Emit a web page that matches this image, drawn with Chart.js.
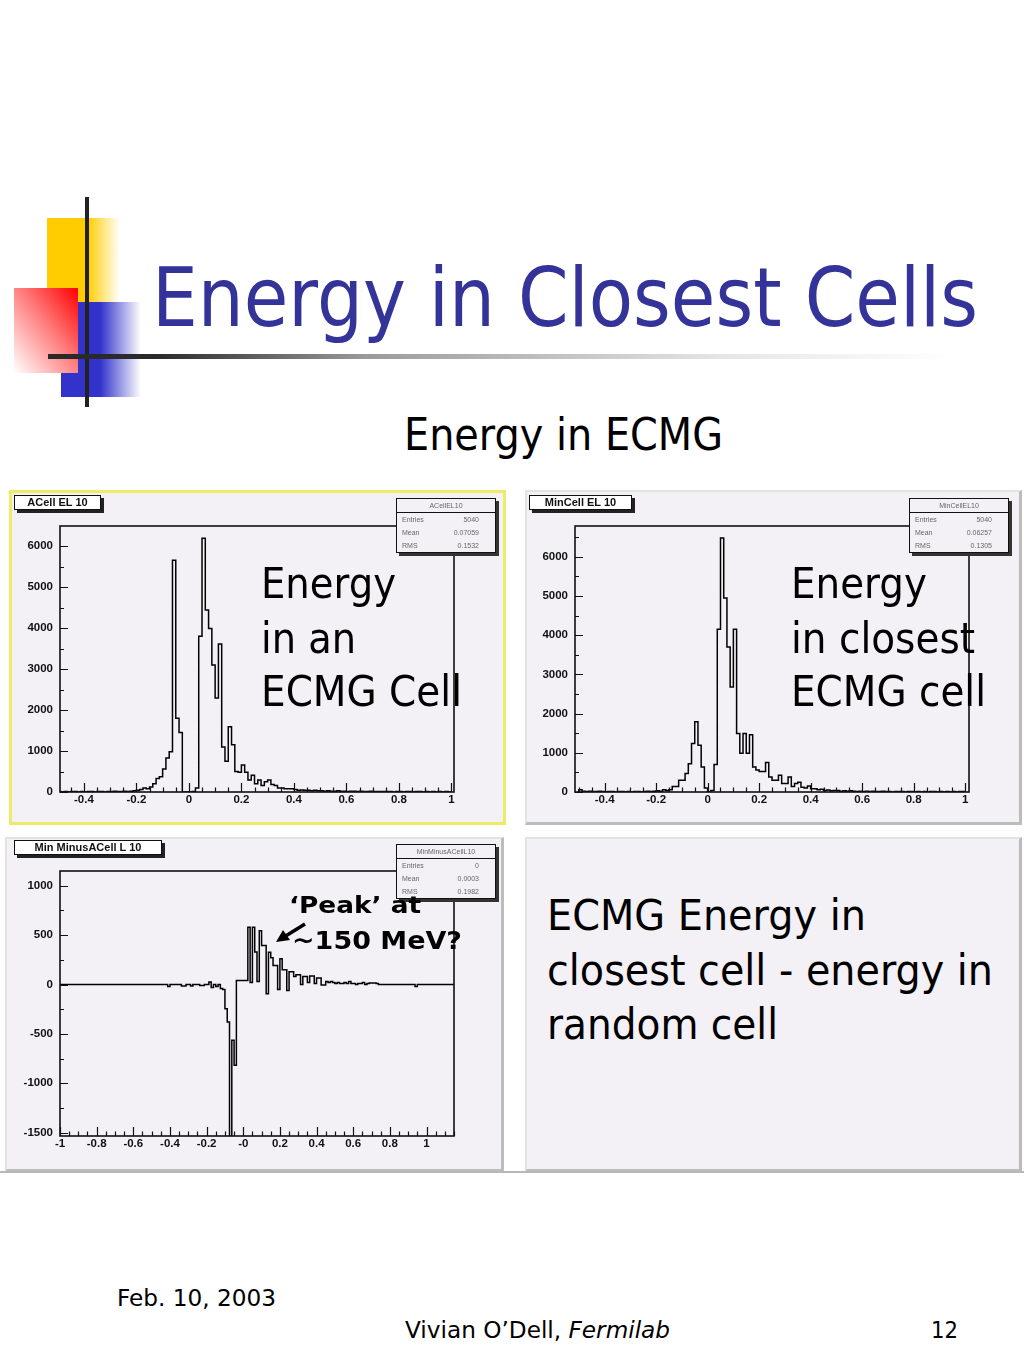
<!DOCTYPE html>
<html>
<head>
<meta charset="utf-8">
<script src="https://cdn.jsdelivr.net/npm/chart.js@4.4.1/dist/chart.umd.min.js"></script>
<style>
  body { margin: 0; width: 1024px; height: 1365px; background: #fff; position: relative; overflow: hidden; }
  .abs { position: absolute; }
  .t { position: absolute; white-space: nowrap; line-height: 1; transform-origin: 0 0; font-family: 'DejaVu Sans', 'Open Sans', sans-serif; color: #000; z-index: 5; }
  .pad { position: absolute; box-sizing: border-box; background: #f3f1f6;
         border-top: 2px solid #e2e2e2; border-left: 2px solid #e2e2e2;
         border-right: 3px solid #bcbcbc; border-bottom: 3px solid #bcbcbc; }
  canvas { position: absolute; z-index: 2; }
  .tbox { position: absolute; z-index: 3; height: 15px; box-sizing: border-box; border: 1px solid #111;
          box-shadow: 3px 3px 0 #222; background: #fff; text-align: center; line-height: 14px;
          font: bold 11px 'Liberation Sans Narrow', 'Liberation Sans', sans-serif; color: #111; }
  .stat { position: absolute; z-index: 3; width: 100px; box-sizing: border-box; border: 1px solid #111;
          box-shadow: 3px 3px 0 #333; background: #f3f1f6; font: 7px 'Liberation Sans', sans-serif; color: #666; }
  .stat .sh { height: 13px; line-height: 13px; border-bottom: 1px solid #111; text-align: center; }
  .stat .sr { display: flex; justify-content: space-between; padding: 0 16px 0 5px; height: 13px; line-height: 13px; }
</style>
</head>
<body>

<!-- slide decoration -->
<div class="abs" style="left:47px;top:218px;width:73px;height:84px;background:linear-gradient(to right,#ffcc00 0%,#ffcc00 55%,rgba(255,204,0,0) 100%)"></div>
<div class="abs" style="left:61px;top:302px;width:80px;height:95px;background:linear-gradient(to right,#3333cc 0%,#3333cc 49%,rgba(51,51,204,0) 100%)"></div>
<div class="abs" style="left:14px;top:288px;width:64px;height:85px;background:linear-gradient(to bottom left,#ff0000 0%,#ff7a7a 45%,#ffffff 100%)"></div>
<div class="abs" style="left:85px;top:197px;width:4px;height:210px;background:#222"></div>
<div class="abs" style="left:48px;top:354px;width:905px;height:5px;background:linear-gradient(to right,#2a2a2a 0%,#2a2a2a 12%,#9a9a9a 35%,#e6e6e6 75%,#ffffff 100%)"></div>

<div class="t" data-w="826" style="left:152px;top:257px;font-size:82px;color:#333399">Energy in Closest Cells</div>
<div class="t" data-w="319" style="left:404px;top:413px;font-size:44px">Energy in ECMG</div>

<!-- pads -->
<div class="pad" style="left:9px;top:490px;width:497px;height:335px;border:3px solid #ecec66"></div>
<div class="pad" style="left:525px;top:490px;width:497px;height:335px"></div>
<div class="pad" style="left:5px;top:837px;width:499px;height:335px"></div>
<div class="pad" style="left:525px;top:837px;width:497px;height:335px"></div>
<div class="abs" style="left:0;top:1171px;width:1024px;height:2px;background:#b8b8b8"></div>

<canvas id="c1" width="512" height="330" style="left:0;top:490px"></canvas>
<canvas id="c2" width="512" height="330" style="left:515px;top:490px"></canvas>
<canvas id="c3" width="512" height="330" style="left:0;top:835px"></canvas>

<!-- ROOT title boxes -->
<div class="tbox" style="left:14px;top:495px;width:87px">ACell EL 10</div>
<div class="tbox" style="left:529px;top:495px;width:103px">MinCell EL 10</div>
<div class="tbox" style="left:14px;top:840px;width:148px">Min MinusACell L 10</div>

<!-- ROOT stat boxes -->
<div class="stat" style="left:396px;top:498px">
  <div class="sh">ACellEL10</div>
  <div class="sr"><span>Entries</span><span>5040</span></div>
  <div class="sr"><span>Mean</span><span>0.07059</span></div>
  <div class="sr"><span>RMS</span><span>0.1532</span></div>
</div>
<div class="stat" style="left:909px;top:498px">
  <div class="sh">MinCellEL10</div>
  <div class="sr"><span>Entries</span><span>5040</span></div>
  <div class="sr"><span>Mean</span><span>0.06257</span></div>
  <div class="sr"><span>RMS</span><span>0.1305</span></div>
</div>
<div class="stat" style="left:396px;top:844px">
  <div class="sh">MinMinusACellL10</div>
  <div class="sr"><span>Entries</span><span>0</span></div>
  <div class="sr"><span>Mean</span><span>0.0003</span></div>
  <div class="sr"><span>RMS</span><span>0.1982</span></div>
</div>

<!-- overlay text -->
<div class="t" data-w="135" style="left:261px;top:562px;font-size:43.5px">Energy</div>
<div class="t" data-w="95" style="left:261px;top:617px;font-size:43.5px">in an</div>
<div class="t" data-w="201" style="left:261px;top:670px;font-size:43.5px">ECMG Cell</div>

<div class="t" data-w="136" style="left:791px;top:562px;font-size:43.5px">Energy</div>
<div class="t" data-w="184" style="left:791px;top:617px;font-size:43.5px">in closest</div>
<div class="t" data-w="195" style="left:791px;top:670px;font-size:43.5px">ECMG cell</div>

<div class="t" data-w="132" style="left:289px;top:894px;font-size:23px;font-weight:bold">‘Peak’ at</div>
<div class="t" data-w="170" style="left:292px;top:929px;font-size:24px;font-weight:bold">~150 MeV?</div>

<div class="t" data-w="319" style="left:547px;top:894px;font-size:43.5px">ECMG Energy in</div>
<div class="t" data-w="446" style="left:547px;top:949px;font-size:43.5px">closest cell - energy in</div>
<div class="t" data-w="231" style="left:547px;top:1003px;font-size:43.5px">random cell</div>

<svg class="abs" style="left:0;top:0;z-index:6" width="1024" height="1365">
  <line x1="305" y1="924" x2="284" y2="937" stroke="#000" stroke-width="3.5"/>
  <polygon points="276,942 283,930 290,940" fill="#000"/>
</svg>

<!-- footer -->
<div class="t" data-w="159" style="left:117px;top:1287px;font-size:23px">Feb. 10, 2003</div>
<div class="t" data-w="265" style="left:405px;top:1319px;font-size:23px">Vivian O’Dell, <i>Fermilab</i></div>
<div class="t" data-w="27" style="left:931px;top:1319px;font-size:23px">12</div>

<script>
// histogram binning shared by all three plots
const binLow = -0.5;
const binWidth = 0.0125;

// ACellEL10 - energy in an ECMG cell
const aCellCounts = [
  10, 0, 10, 0, 10, 10, 0, 10, 0, 10,
  10, 0, 10, 10, 0, 10, 10, 20, 10, 10,
  20, 10, 20, 30, 40, 60, 100, 80, 120, 200,
  330, 370, 560, 830, 980, 5650, 1800, 1450, 0, 0,
  0, 10, 100, 3800, 6190, 4440, 3990, 3100, 2290, 3610,
  1100, 750, 1590, 1150, 500, 480, 660, 480, 290, 410,
  200, 290, 160, 250, 290, 180, 160, 100, 100, 80,
  80, 80, 60, 40, 50, 40, 40, 30, 40, 30,
  30, 20, 30, 20, 20, 30, 20, 20, 10, 20,
  20, 10, 20, 10, 10, 20, 10, 10, 10, 10,
  10, 10, 0, 10, 10, 0, 10, 10, 0, 10,
  10, 0, 10, 0, 10, 0, 10, 0, 10, 0
];

// MinCellEL10 - energy in closest ECMG cell
const minCellCounts = [
  60, 20, 10, 20, 10, 10, 20, 10, 0, 10,
  10, 0, 10, 10, 0, 10, 0, 10, 10, 0,
  10, 20, 10, 20, 30, 20, 60, 40, 60, 140,
  140, 300, 300, 470, 720, 1240, 1790, 1190, 640, 100,
  0, 40, 700, 4150, 6480, 4950, 3700, 2680, 4150, 1490,
  990, 1490, 990, 1460, 640, 560, 520, 520, 750, 380,
  300, 300, 430, 220, 220, 380, 140, 220, 250, 120,
  100, 150, 80, 80, 60, 70, 40, 50, 30, 40,
  40, 20, 30, 20, 30, 20, 10, 20, 10, 20,
  10, 20, 10, 10, 20, 10, 10, 0, 10, 10,
  10, 0, 10, 10, 0, 10, 0, 10, 0, 10,
  10, 0, 10, 0, 10, 0, 10, 0, 10, 10
];

// MinMinusACellL10 - closest minus random
const minMinusCounts = [
  0, 0, 0, 0, 0, 0, 0, -20, 0, 0,
  0, 0, 0, -15, -15, 0, 0, -15, 0, 0,
  0, -10, -10, 0, 0, 25, -30, 0, -20, 0,
  -40, -50, -245, -380, -1600, -566, -818, 40, 40, 40,
  40, 40, 580, 20, 580, 330, 30, 545, 394, 394,
  -94, 326, 270, 192, 192, -50, 262, 150, 150, -60,
  130, 130, 80, 100, 100, 0, 80, 80, 20, 85,
  85, 10, 65, 65, -5, -5, 30, 20, 30, 20,
  10, 20, 10, 10, 20, 10, 30, 10, 10, 0,
  10, 10, 20, 0, 10, 15, 15, 15, 10, 0,
  0, 0, 0, 0, 0, 0, 0, 0, 0, 0,
  0, 0, 0, 0, 0, -20, 0, 0, 0, 0
];

// tick labels
const xTicks1 = [-0.4, -0.2, 0, 0.2, 0.4, 0.6, 0.8, 1];
const xLabels1 = ['-0.4', '-0.2', '0', '0.2', '0.4', '0.6', '0.8', '1'];
const yTicks1 = [0, 1000, 2000, 3000, 4000, 5000, 6000];
const yLabels1 = ['0', '1000', '2000', '3000', '4000', '5000', '6000'];
const xTicks3 = [-1, -0.8, -0.6, -0.4, -0.2, 0, 0.2, 0.4, 0.6, 0.8, 1];
const xLabels3 = ['-1', '-0.8', '-0.6', '-0.4', '-0.2', '-0', '0.2', '0.4', '0.6', '0.8', '1'];
const yTicks3 = [-1500, -1000, -500, 0, 500, 1000];
const yLabels3 = ['-1500', '-1000', '-500', '0', '500', '1000'];

Chart.defaults.animation = false;

// turn bin contents into step points (low edges), closing down to zero at both ends
function histPoints(counts, xFrom, xTo) {
  const pts = [];
  if (xFrom !== undefined) pts.push({ x: xFrom, y: 0 });
  pts.push({ x: binLow, y: 0 });
  counts.forEach((c, i) => pts.push({ x: binLow + i * binWidth, y: c }));
  const hi = binLow + counts.length * binWidth;
  pts.push({ x: hi, y: 0 });
  if (xTo !== undefined) pts.push({ x: xTo, y: 0 });
  return pts;
}

// ROOT style frame with inward tick marks
const rootFrame = {
  id: 'rootFrame',
  afterDatasetsDraw(chart, args, o) {
    const { ctx, chartArea: a, scales: { x, y } } = chart;
    ctx.save();
    ctx.strokeStyle = '#111';
    ctx.lineWidth = 1.6;
    ctx.strokeRect(a.left, a.top, a.right - a.left, a.bottom - a.top);
    ctx.lineWidth = 1.2;
    ctx.beginPath();
    for (let v = Math.ceil(x.min / o.xMinor - 1e-6) * o.xMinor; v <= x.max + 1e-9; v += o.xMinor) {
      const major = o.xMajor.some(m => Math.abs(m - v) < 1e-6);
      const px = Math.round(x.getPixelForValue(v)) + 0.5;
      ctx.moveTo(px, a.bottom);
      ctx.lineTo(px, a.bottom - (major ? 9 : 4.5));
    }
    for (let v = Math.ceil(y.min / o.yMinor - 1e-6) * o.yMinor; v <= y.max + 1e-9; v += o.yMinor) {
      const major = o.yMajor.some(m => Math.abs(m - v) < 1e-6);
      const py = Math.round(y.getPixelForValue(v)) + 0.5;
      ctx.moveTo(a.left, py);
      ctx.lineTo(a.left + (major ? 8 : 4), py);
    }
    ctx.stroke();
    ctx.restore();
  }
};

const tickFont = { family: 'Liberation Sans', weight: 'bold', size: 11.5 };
const noGrid = { display: false, drawTicks: false, tickLength: 0 };

function makeHist(id, points, xr, yr, xt, xl, yt, yl, minors, xAxisH) {
  return new Chart(document.getElementById(id), {
    type: 'line',
    data: {
      datasets: [{
        data: points,
        stepped: true,
        borderColor: '#000',
        borderWidth: 1.5,
        pointRadius: 0,
        fill: false
      }]
    },
    options: {
      responsive: false,
      devicePixelRatio: 1,
      layout: { padding: { left: 10, right: 58, top: 36, bottom: 0 } },
      plugins: {
        legend: { display: false },
        tooltip: { enabled: false },
        rootFrame: { xMajor: xt, yMajor: yt, xMinor: minors[0], yMinor: minors[1] }
      },
      scales: {
        x: {
          type: 'linear', min: xr[0], max: xr[1],
          grid: noGrid, border: { display: false },
          afterBuildTicks: s => { s.ticks = xt.map(v => ({ value: v })); },
          afterFit: s => { s.height = xAxisH; },
          ticks: { callback: (v, i) => xl[i], padding: 1, font: tickFont, color: '#111', maxRotation: 0, autoSkip: false }
        },
        y: {
          type: 'linear', min: yr[0], max: yr[1],
          grid: noGrid, border: { display: false },
          afterBuildTicks: s => { s.ticks = yt.map(v => ({ value: v })); },
          afterFit: s => { s.width = 50; },
          ticks: { callback: (v, i) => yl[i], padding: 7, font: tickFont, color: '#111', autoSkip: false }
        }
      }
    },
    plugins: [rootFrame]
  });
}

makeHist('c1', histPoints(aCellCounts), [-0.491, 1.01], [0, 6488],
  xTicks1, xLabels1, yTicks1, yLabels1, [0.05, 500], 28);
makeHist('c2', histPoints(minCellCounts), [-0.515, 1.015], [0, 6786],
  xTicks1, xLabels1, yTicks1, yLabels1, [0.05, 500], 28);
makeHist('c3', histPoints(minMinusCounts, -1, 1.15), [-1, 1.15], [-1535, 1150],
  xTicks3, xLabels3, yTicks3, yLabels3, [0.05, 250], 29);

// squeeze slide text to the widths it has in the original
document.querySelectorAll('.t[data-w]').forEach(el => {
  const w = el.getBoundingClientRect().width;
  el.style.transform = `scaleX(${el.dataset.w / w})`;
});
</script>
</body>
</html>
